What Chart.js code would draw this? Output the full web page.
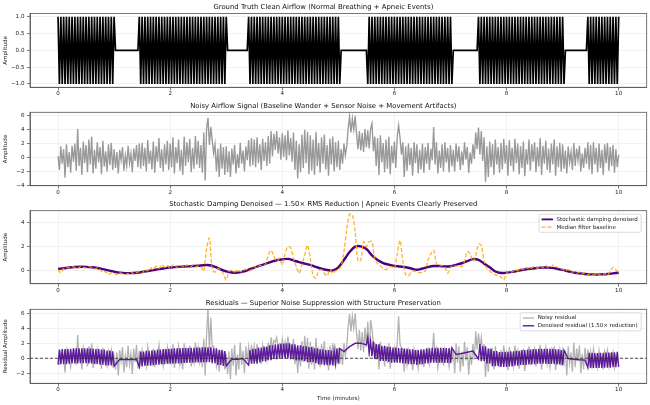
<!DOCTYPE html>
<html>
<head>
<meta charset="utf-8">
<script src="https://cdn.jsdelivr.net/npm/chart.js@4.4.1/dist/chart.umd.min.js"></script>
<style>
  html, body { margin: 0; padding: 0; background: #fff; }
  #fig { position: relative; width: 650px; height: 405px; overflow: hidden; background: #fff; }
  .panel { position: absolute; left: 0; width: 650px; }
</style>
</head>
<body>
<div id="fig">
  <div class="panel" style="top:0px;height:99px"><canvas id="p1"></canvas></div>
  <div class="panel" style="top:99px;height:98px"><canvas id="p2"></canvas></div>
  <div class="panel" style="top:197px;height:99px"><canvas id="p3"></canvas></div>
  <div class="panel" style="top:296px;height:109px"><canvas id="p4"></canvas></div>
</div>
<script>
// breathing segments (minutes), the gaps between them are the apneic events
const breathSegments = [[0, 1.0], [1.45, 3.02], [3.4, 5.03], [5.52, 7.03], [7.48, 9.04], [9.44, 10]];
const breathAmplitude = 1.0;

// noisy airflow, one value every 0.025 min (one row = half a minute)
const sampleStep = 0.025;
const noisy = [
  0.2, -1.8, 1.6, -0.9, 1.2, -2.9, 1.9, -1.4, 0.8, -2.2, 1.7, -0.6, 2.0, -1.9, 4.1, -1.2, 1.4, -2.5, 2.3, -0.8,
  1.8, -2.1, 2.6, -1.0, 3.0, -2.3, 1.1, -1.6, 2.2, -0.7, 1.5, -2.4, 2.4, -1.3, 0.9, -2.0, 1.9, -1.1, 2.1, -1.8,
  1.2, -1.5, 0.8, -2.3, 1.1, -0.4, 1.5, -1.9, 0.3, -1.2, 1.7, -0.8, 0.6, -2.1, 1.3, -0.5, 1.8, -1.4, 2.0, -1.6,
  2.1, -1.2, 1.4, -2.0, 2.5, -0.9, 1.0, -1.7, 2.3, -2.2, 1.6, -0.6, 2.8, -1.5, 1.2, -2.0, 1.9, -1.0, 2.4, -1.8,
  2.0, -1.4, 2.9, -2.3, 1.5, -0.8, 2.6, -1.9, 1.1, -2.5, 3.0, -1.2, 2.2, -0.7, 2.7, -2.1, 1.4, -1.6, 3.1, -1.0,
  2.4, -1.5, 1.8, -2.2, 3.6, -3.3, 4.2, 5.7, 1.8, 4.4, 2.5, 0.6, 1.9, -2.0, 1.3, -2.8, 2.0, -1.6, 1.5, -2.5,
  1.6, -2.1, 0.9, -2.8, 1.3, -1.0, 1.8, -2.3, 0.5, -1.5, 2.1, -0.9, 1.0, -2.0, 1.6, -0.4, 2.5, -1.3, 2.8, -1.1,
  2.6, -1.4, 2.9, -0.8, 1.9, -1.8, 2.7, -0.5, 2.2, -1.2, 3.1, -0.9, 3.8, 0.2, 3.4, 1.1, 3.8, 0.6, 2.9, -0.3,
  3.5, 0.1, 3.2, -0.4, 3.9, 0.3, 2.8, -0.6, 3.6, -1.8, 2.4, -3.0, 1.9, -2.1, 3.3, -1.5, 4.0, -0.8, 3.7, -2.4,
  3.2, -1.9, 2.6, -2.5, 3.7, -1.2, 2.1, -2.2, 2.9, -0.9, 3.3, -1.7, 1.8, -2.6, 2.7, -1.0, 3.0, -2.0, 2.2, -1.4,
  2.4, -1.8, 1.2, -0.9, 2.0, 0.3, 1.6, 4.2, 5.9, 3.6, 5.6, 4.0, 6.0, 3.4, 1.2, 3.8, 1.0, 3.5, 0.8, 4.1,
  1.5, 3.9, 1.3, 4.1, 4.9, 0.9, 3.0, -1.2, 2.8, -2.5, 3.2, -0.7, 2.1, -2.1, 2.6, -1.6, 3.0, -2.4, 1.7, -0.8,
  2.3, -1.5, 3.0, 4.6, 2.9, 0.4, 2.2, -2.8, 1.6, -1.9, 2.0, -1.1, 1.4, -2.6, 2.2, -0.8, 1.9, -2.3, 1.1, -1.7,
  2.0, -2.2, 1.5, -0.9, 2.1, -1.8, 1.3, -0.4, 4.4, -1.0, 2.2, -2.3, 1.0, -1.5, 1.9, -2.0, 2.2, -0.7, 1.4, -2.1,
  1.8, -1.3, 1.1, -2.0, 2.0, -0.6, 1.6, -1.8, 0.9, -1.1, 2.2, -0.3, 1.5, -2.2, 0.7, -0.9, 1.9, -0.2, 3.6, 1.2,
  4.3, 0.4, 3.8, -0.5, 2.9, -3.5, 1.6, -2.8, 2.3, -1.4, 1.9, -2.5, 2.6, -1.0, 1.5, -2.2, 2.1, -1.7, 2.7, -0.9,
  1.8, -2.6, 2.5, -1.2, 1.4, -2.0, 2.7, -0.8, 2.0, -2.4, 1.6, -1.5, 2.3, -2.7, 1.2, -1.0, 2.6, -1.9, 1.9, -0.6,
  2.2, -2.1, 1.5, -1.3, 2.8, -2.5, 1.7, -0.9, 2.4, -1.8, 1.3, -2.2, 2.0, -1.0, 2.6, -2.6, 1.6, -1.4, 2.1, -2.0,
  1.9, -1.6, 1.0, -2.3, 1.6, -0.7, 0.8, -1.8, 2.1, -1.2, 1.3, -0.4, 1.7, -2.0, 0.6, -1.5, 1.4, -0.9, 2.2, -1.7,
  1.8, -2.4, 2.2, -1.0, 1.4, -2.1, 2.0, -1.5, 1.1, -2.5, 1.9, -0.8, 2.1, -1.9, 1.5, -1.2, 1.8, -2.2, 1.2, -1.4,
  0.4
];

// stochastic damping output, one value every 0.1 min
const smoothStep = 0.1;
const denoised = [
  0.16, 0.22, 0.28, 0.32, 0.34, 0.33, 0.30, 0.24, 0.15, 0.04,
  -0.06, -0.14, -0.18, -0.18, -0.15, -0.09, -0.01, 0.07, 0.15, 0.22,
  0.28, 0.32, 0.35, 0.37, 0.40, 0.43, 0.47, 0.47, 0.34, 0.12,
  -0.04, -0.13, -0.14, -0.05, 0.10, 0.28, 0.43, 0.58, 0.74, 0.88,
  0.95, 0.99, 0.87, 0.72, 0.60, 0.49, 0.33, 0.18, 0.08, 0.04,
  0.30, 0.90, 1.55, 2.00, 2.02, 1.80, 1.28, 0.90, 0.65, 0.52,
  0.42, 0.36, 0.30, 0.20, 0.10, 0.20, 0.32, 0.40, 0.40, 0.37,
  0.38, 0.50, 0.63, 0.80, 0.97, 0.90, 0.60, 0.30, -0.05, -0.17,
  -0.15, -0.08, 0.00, 0.10, 0.17, 0.22, 0.27, 0.28, 0.25, 0.18,
  0.08, -0.03, -0.13, -0.20, -0.25, -0.28, -0.30, -0.28, -0.25, -0.20,
  -0.15
];

// median filter baseline, one value every 0.05 min
const medianStep = 0.05;
const medianBaseline = [
  0.1, -0.15, 0.2, 0.3, 0.25, 0.35, 0.3, 0.2, 0.35, 0.3,
  0.25, 0.35, 0.3, 0.15, 0.25, 0.1, -0.1, -0.05, -0.3, -0.15,
  -0.2, -0.3, -0.15, -0.25, -0.3, -0.2, -0.1, -0.25, -0.15, -0.05,
  -0.2, 0.1, 0.0, 0.25, 0.1, 0.4, 0.2, 0.5, 0.3, 0.45,
  0.2, 0.5, 0.35, 0.25, 0.45, 0.3, 0.5, 0.3, 0.45, 0.35,
  0.4, 0.3, 0.0, 1.86, 2.7, 0.1, -0.1, 0.2, 0.05, -0.25,
  -0.74, -0.05, 0.05, -0.1, 0.1, -0.05, 0.0, 0.15, 0.0, 0.1,
  0.35, 0.25, 0.45, 0.4, 0.55, 1.3, 1.7, 1.2, 0.8, 1.0,
  0.5, 1.4, 2.0, 1.9, 1.0, 0.36, -0.2, 0.5, 1.3, 2.1,
  1.0, -0.4, -0.6, 0.0, 0.1, -0.2, -0.4, 0.1, -0.2, 0.0,
  0.1, 0.4, 1.6, 3.4, 4.66, 4.6, 3.2, 0.8, 0.9, 2.4,
  2.0, 2.4, 2.4, 1.0, 0.6, 0.4, 0.2, 0.1, 0.3, 0.35,
  0.2, 1.4, 2.5, 0.8, -0.3, -0.4, -0.1, 0.0, -0.1, -0.15,
  -0.1, 0.0, 0.9, 1.4, 1.7, 0.6, 0.4, 0.45, 0.3, -0.2,
  0.3, 0.45, 0.4, 0.45, 0.35, 0.8, 1.6, 1.4, 0.8, 1.3,
  2.2, 2.1, 0.8, 0.2, 0.0, -0.2, -0.3, -0.35, -0.5, -0.74,
  -0.2, 0.0, -0.1, 0.1, 0.0, 0.2, 0.1, 0.3, 0.15, 0.25,
  0.35, 0.2, 0.4, 0.3, 0.45, 0.25, 0.35, 0.5, 0.3, 0.2,
  0.15, 0.0, 0.1, -0.1, -0.05, -0.2, -0.1, -0.25, -0.15, -0.3,
  -0.2, -0.35, -0.25, -0.3, -0.4, -0.2, -0.35, 0.0, 0.3, 0.1,
  -0.2
];

const xTicks = [0, 2, 4, 6, 8, 10];
const y1Ticks = [-1, -0.5, 0, 0.5, 1];
const y2Ticks = [-4, -2, 0, 2, 4, 6];
const y3Ticks = [0, 2, 4];
const y4Ticks = [-2, 0, 2, 4, 6];

const FONT = "'DejaVu Sans', sans-serif";
const TITLE_SIZE = 6.9;
const TICK_SIZE = 5.6;
const minus = (s) => s.replace('-', '\u2212');

// series built from the arrays above
const inBreath = (t) => breathSegments.some(([s, e]) => t >= s - 1e-9 && t <= e + 1e-9);
const times = noisy.map((_, i) => +(i * sampleStep).toFixed(3));
const clean = times.map((t, i) => inBreath(t) ? (i % 2 === 0 ? breathAmplitude : -breathAmplitude) : 0);
const denAt = (t) => denoised[Math.round(t / smoothStep)];

const cleanPts = times.map((t, i) => ({ x: t, y: clean[i] }));
const noisyPts = times.map((t, i) => ({ x: t, y: noisy[i] }));
const denoisedPts = denoised.map((v, i) => ({ x: +(i * smoothStep).toFixed(2), y: v }));
const medianPts = medianBaseline.map((v, i) => ({ x: +(i * medianStep).toFixed(2), y: v }));
const noisyResPts = times.map((t, i) => ({ x: t, y: noisy[i] - clean[i] }));
const denResPts = [];
times.forEach((t, i) => {
  if (inBreath(t)) denResPts.push({ x: t, y: denAt(t) - clean[i] });
  else if (i % 4 === 0) denResPts.push({ x: t, y: denAt(t) });
});

// axes frame on all four sides
const framePlugin = {
  id: 'frame',
  afterDraw(chart) {
    const { ctx, chartArea: a } = chart;
    ctx.save();
    ctx.strokeStyle = '#555';
    ctx.lineWidth = 0.8;
    ctx.strokeRect(a.left, a.top, a.right - a.left, a.bottom - a.top);
    ctx.restore();
  }
};

const zeroLinePlugin = {
  id: 'zeroLine',
  afterDatasetsDraw(chart, args, opts) {
    if (!opts.show) return;
    const { ctx, chartArea: a } = chart;
    const y = chart.scales.y.getPixelForValue(0);
    ctx.save();
    ctx.strokeStyle = '#222';
    ctx.lineWidth = 0.8;
    ctx.setLineDash([3, 2]);
    ctx.beginPath();
    ctx.moveTo(a.left, y);
    ctx.lineTo(a.right, y);
    ctx.stroke();
    ctx.restore();
  }
};

// matplotlib-like legend box in the upper right corner
const boxLegendPlugin = {
  id: 'boxLegend',
  afterDatasetsDraw(chart, args, opts) {
    if (!opts.show) return;
    const { ctx, chartArea: a } = chart;
    const items = chart.data.datasets.filter((d) => d.label);
    ctx.save();
    ctx.font = '5.5px ' + FONT;
    const w = Math.max(...items.map((d) => ctx.measureText(d.label).width)) + 21;
    const rowH = 7.8;
    const h = items.length * rowH + 2.5;
    const x = a.right - 5.5 - w;
    const y = a.top + 3.5;
    ctx.fillStyle = 'rgba(255,255,255,0.85)';
    ctx.strokeStyle = '#ccc';
    ctx.lineWidth = 0.7;
    ctx.beginPath();
    ctx.roundRect(x, y, w, h, 1.5);
    ctx.fill();
    ctx.stroke();
    items.forEach((d, k) => {
      const cy = y + 1.3 + rowH * (k + 0.5);
      ctx.strokeStyle = d.borderColor;
      ctx.lineWidth = Math.min(d.borderWidth, 1.8);
      ctx.setLineDash(d.borderDash || []);
      ctx.beginPath();
      ctx.moveTo(x + 2.5, cy);
      ctx.lineTo(x + 14, cy);
      ctx.stroke();
      ctx.setLineDash([]);
      ctx.fillStyle = '#222';
      ctx.textBaseline = 'middle';
      ctx.fillText(d.label, x + 17.5, cy);
    });
    ctx.restore();
  }
};

function makePanel(id, cfg) {
  const lineH = TITLE_SIZE * 1.2;
  const titlePadTop = cfg.chartTop - 6.5 - lineH / 2;
  return new Chart(document.getElementById(id), {
    type: 'line',
    data: { datasets: cfg.datasets },
    options: {
      responsive: true,
      maintainAspectRatio: false,
      animation: false,
      events: [],
      parsing: false,
      normalized: true,
      layout: { padding: { left: 0, right: 3.3, top: 0, bottom: 0 } },
      elements: { point: { radius: 0 } },
      plugins: {
        legend: { display: false },
        tooltip: { enabled: false },
        title: {
          display: true,
          text: cfg.title,
          color: '#111',
          font: { family: FONT, size: TITLE_SIZE, weight: 'normal' },
          padding: { top: titlePadTop, bottom: cfg.chartTop - titlePadTop - lineH }
        },
        boxLegend: { show: !!cfg.legend },
        zeroLine: { show: !!cfg.zeroLine }
      },
      scales: {
        x: {
          type: 'linear',
          min: -0.5,
          max: 10.5,
          afterBuildTicks: (s) => { s.ticks = xTicks.map((v) => ({ value: v })); },
          afterFit: (s) => { s.height = cfg.xAxisHeight; },
          ticks: { color: '#222', font: { family: FONT, size: TICK_SIZE }, padding: 0, maxRotation: 0 },
          grid: { color: '#e9e9e9', lineWidth: 0.6, tickColor: '#444', tickLength: 3, tickWidth: 0.7 },
          border: { display: true, color: '#555', width: 0.8 },
          title: cfg.xTitle
            ? { display: true, text: cfg.xTitle, color: '#222', font: { family: FONT, size: TICK_SIZE }, padding: { top: 0, bottom: 3.5 } }
            : { display: false }
        },
        y: {
          type: 'linear',
          min: cfg.yMin,
          max: cfg.yMax,
          afterBuildTicks: (s) => { s.ticks = cfg.yTicks.map((v) => ({ value: v })); },
          afterFit: (s) => { s.width = 30; },
          ticks: { color: '#222', font: { family: FONT, size: TICK_SIZE }, padding: 2.5, callback: cfg.yFormat },
          grid: { color: '#e9e9e9', lineWidth: 0.6, tickColor: '#444', tickLength: 3, tickWidth: 0.7 },
          border: { display: true, color: '#555', width: 0.8 },
          title: { display: true, text: cfg.yTitle, color: '#222', font: { family: FONT, size: TICK_SIZE }, padding: { top: 2.5, bottom: 0 } }
        }
      }
    },
    plugins: [framePlugin, zeroLinePlugin, boxLegendPlugin]
  });
}

const intFmt = (v) => minus(String(v));

makePanel('p1', {
  title: 'Ground Truth Clean Airflow (Normal Breathing + Apneic Events)',
  chartTop: 13.5, xAxisHeight: 11.7,
  yMin: -1.1, yMax: 1.1, yTicks: y1Ticks, yTitle: 'Amplitude',
  yFormat: (v) => minus(v.toFixed(1)),
  datasets: [
    { data: cleanPts, borderColor: '#000', borderWidth: 1.7, tension: 0 }
  ]
});

makePanel('p2', {
  title: 'Noisy Airflow Signal (Baseline Wander + Sensor Noise + Movement Artifacts)',
  chartTop: 13.3, xAxisHeight: 11.3,
  yMin: -4.05, yMax: 6.5, yTicks: y2Ticks, yTitle: 'Amplitude',
  yFormat: intFmt,
  datasets: [
    { data: noisyPts, borderColor: 'rgba(128,128,128,0.8)', borderWidth: 1.35, tension: 0 }
  ]
});

makePanel('p3', {
  title: 'Stochastic Damping Denoised \u2014 1.50\u00d7 RMS Reduction | Apneic Events Clearly Preserved',
  chartTop: 13.7, xAxisHeight: 12.3,
  yMin: -1.05, yMax: 4.95, yTicks: y3Ticks, yTitle: 'Amplitude',
  yFormat: intFmt, legend: true,
  datasets: [
    { label: 'Stochastic damping denoised', data: denoisedPts, borderColor: '#4b0082', borderWidth: 2.4, tension: 0.4, order: 2 },
    { label: 'Median filter baseline', data: medianPts, borderColor: 'rgba(255,165,0,0.85)', borderWidth: 1.3, borderDash: [4, 2], tension: 0.3, order: 1 }
  ]
});

makePanel('p4', {
  title: 'Residuals \u2014 Superior Noise Suppression with Structure Preservation',
  chartTop: 13.3, xAxisHeight: 21.7,
  yMin: -3.35, yMax: 6.55, yTicks: y4Ticks, yTitle: 'Residual Amplitude',
  yFormat: intFmt, legend: true, zeroLine: true, xTitle: 'Time (minutes)',
  datasets: [
    { label: 'Noisy residual', data: noisyResPts, borderColor: 'rgba(128,128,128,0.6)', borderWidth: 1.3, tension: 0, order: 2 },
    { label: 'Denoised residual (1.50\u00d7 reduction)', data: denResPts, borderColor: '#5e1a9c', borderWidth: 1.4, tension: 0, order: 1 }
  ]
});
</script>
</body>
</html>
